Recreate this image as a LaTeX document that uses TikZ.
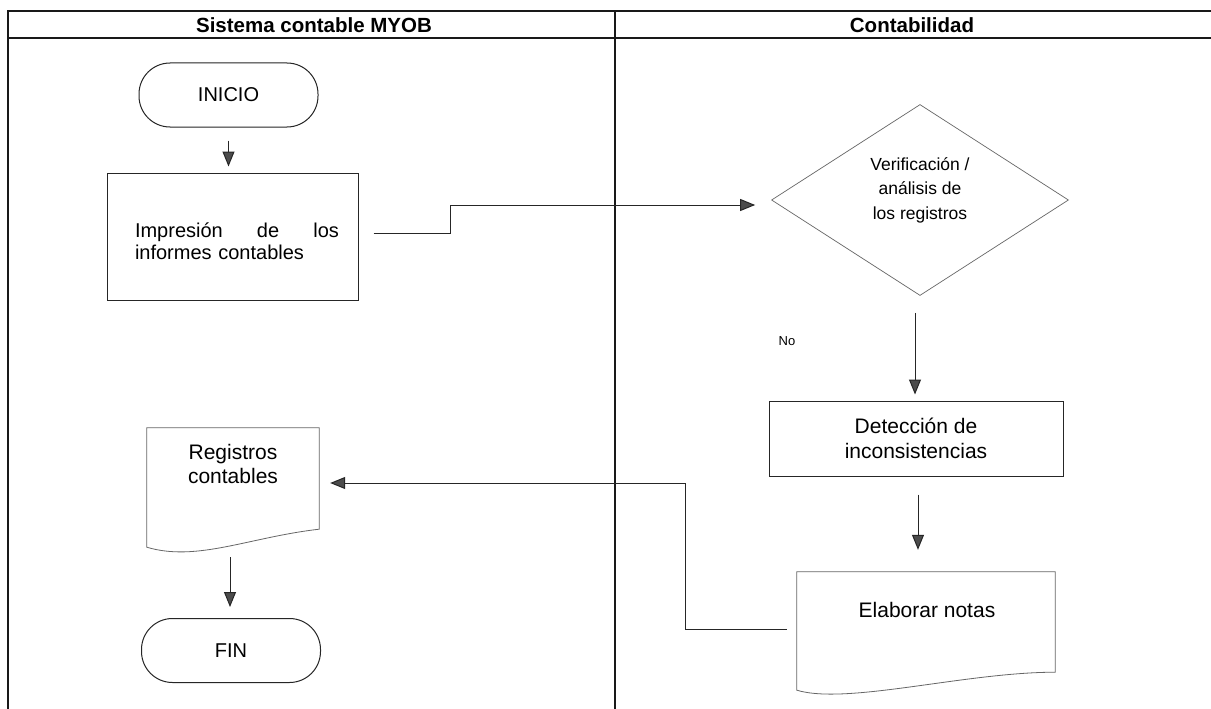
\documentclass[tikz,border=0pt]{standalone}
\usepackage{fontspec}
\setmainfont{Liberation Sans}
\usetikzlibrary{shapes.geometric,arrows.meta}
\begin{document}
\begin{tikzpicture}[x=1pt,y=-1pt,
  frame/.style={line width=1.3pt, draw=black!90},
  ln/.style={line width=1pt, draw=black!85},
  arr/.style={ln, -{Triangle[length=15pt,width=12pt,fill=black!70]}},
  head/.style={font=\bfseries\fontsize{20.5}{24}\selectfont},
  body/.style={font=\fontsize{21}{24.5}\selectfont, align=center},
  term/.style={draw=black!85, line width=1pt, rounded corners=31pt, minimum width=179pt, minimum height=64pt, inner sep=0pt, font=\fontsize{20}{24}\selectfont},
  procbox/.style={draw=black!85, line width=1pt, inner sep=0pt},
  docshape/.style={draw=black!60, line width=0.8pt},
  decision/.style={diamond, draw=black!60, line width=0.7pt, minimum width=297pt, minimum height=191pt, inner sep=0pt, aspect=1.555}
]
\useasboundingbox (0,0) rectangle (1211,709);
\fill[white] (0,0) rectangle (1211,709);
% frame
\draw[frame] (8,709) -- (8,11) -- (1211,11);
\draw[frame] (8,38) -- (1211,38);
\draw[frame] (615,11) -- (615,709);
\node[head] (h1) at (314,25) {Sistema contable MYOB};
\node[head] (h2) at (912,25) {Contabilidad};

% left lane
\node[term] (inicio) at (228.5,95) {INICIO};
\node[procbox, minimum width=251pt, minimum height=127pt] (impr) at (232.5,236.5) {};
\node[font=\fontsize{20}{22.5}\selectfont, text width=204pt, align=left, inner sep=0pt] (imprtxt) at (237,241) {Impresión\hfill de\hfill los\\informes contables};

\node[minimum width=172pt, minimum height=101pt, inner sep=0pt] (reg) at (233,478.5) {};
\draw[docshape] (reg.south west) ++(0,18) -- (reg.north west) -- (reg.north east) -- (reg.south east)
   .. controls +(-70,8) and +(50,15) .. ([yshift=-18pt]reg.south west) -- cycle;
\node[body, inner sep=0pt] (regtxt) at (233,464) {Registros\\contables};
\node[term] (fin) at (231,650.5) {FIN};

% right lane
\node[decision] (dia) at (920,200) {};
\node[body, font=\fontsize{17.5}{24.5}\selectfont, inner sep=0pt] (diatxt) at (920,190) {Verificación /\\análisis de\\los registros};
\node[font=\fontsize{13}{15}\selectfont] (no) at (787,341) {No};
\node[procbox, minimum width=294pt, minimum height=75pt, body] (det) at (916,438.5) {Detección de\\inconsistencias};
\node[minimum width=258pt, minimum height=100pt, inner sep=0pt] (elab) at (926,622) {};
\draw[docshape] (elab.south west) ++(0,18) -- (elab.north west) -- (elab.north east) -- (elab.south east)
   .. controls +(-90,0) and +(50,15) .. ([yshift=-18pt]elab.south west) -- cycle;
\node[body, inner sep=0pt] (elabtxt) at (927,610) {Elaborar notas};

% connectors
\draw[arr, shorten <=13pt, shorten >=6pt] (inicio.south) -- (impr.north -| inicio.south);
\coordinate (b1) at (450,233);
\coordinate (b2) at (450,205);
\draw[arr] ([xshift=15pt,yshift=3.5pt]impr.east) -- (b1) -- (b2) -- ([xshift=-16pt,yshift=-5pt]dia.west);
\draw[arr, shorten >=6pt] ([xshift=-5pt,yshift=-17pt]dia.south) -- ([xshift=-5pt]dia.south |- det.north);
\draw[arr, shorten >=22pt] ([xshift=2pt,yshift=-18pt]det.south) -- ([xshift=2pt]det.south |- elab.north);
\coordinate (b3) at (685,629);
\coordinate (b4) at (685,483);
\draw[arr] ([xshift=-10pt,yshift=-7pt]elab.west) -- (b3) -- (b4) -- ([xshift=11pt,yshift=-4.5pt]reg.east);
\draw[arr, shorten <=10pt, shorten >=11pt] ([xshift=-3pt,yshift=-18pt]reg.south) -- ([xshift=-3pt]reg.south |- fin.north);
\end{tikzpicture}
\end{document}
